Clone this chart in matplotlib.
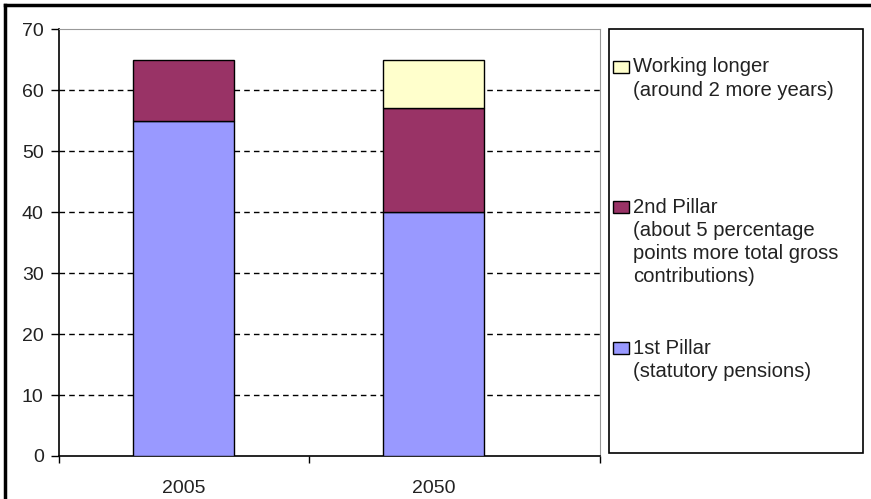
import matplotlib.pyplot as plt
from matplotlib.patches import Rectangle
from matplotlib.lines import Line2D

plt.rcParams['font.family'] = ['Liberation Sans', 'DejaVu Sans']

# data
years = ['2005', '2050']
first_pillar = [55, 40]
second_pillar = [10, 17]
working_longer = [0, 8]
legend_labels = [
    'Working longer\n(around 2 more years)',
    '2nd Pillar\n(about 5 percentage\npoints more total gross\ncontributions)',
    '1st Pillar\n(statutory pensions)',
]
colors = ['#9999FF', '#993366', '#FFFFCC']

W, H = 871, 499
fig = plt.figure(figsize=(W / 100, H / 100), dpi=100)
fig.patch.set_facecolor('white')

ax = fig.add_axes([59 / W, 1 - 456 / H, (600 - 59) / W, (456 - 29) / H])

x = list(range(len(years)))
bw = 0.403
ax.bar(x, first_pillar, bw, color=colors[0], edgecolor='black', linewidth=1, zorder=3)
ax.bar(x, second_pillar, bw, bottom=first_pillar, color=colors[1],
       edgecolor='black', linewidth=1, zorder=3)
bottoms = [a + b for a, b in zip(first_pillar, second_pillar)]
for i in x:
    if working_longer[i] > 0:
        ax.bar(i, working_longer[i], bw, bottom=bottoms[i], color=colors[2],
               edgecolor='black', linewidth=1, zorder=3)

ax.set_xlim(-0.497, 1.663)
ax.set_ylim(0, 70)
ax.set_yticks(range(0, 71, 10))
ax.tick_params(axis='y', direction='out', length=6, width=1, labelsize=14,
               pad=5, labelcolor='#222222')
ax.set_xticks(x)
ax.set_xticklabels(years)
ax.tick_params(axis='x', length=0, labelsize=14, pad=17, labelcolor='#222222')
ax.set_xticks([-0.497, 0.5, 1.663], minor=True)
ax.tick_params(axis='x', which='minor', direction='out', length=5, width=1)

for y in range(10, 70, 10):
    ax.axhline(y, color='black', linestyle=(0, (4, 3)), linewidth=1, zorder=1)

ax.spines['left'].set_linewidth(1.2)
ax.spines['bottom'].set_linewidth(1.2)
ax.spines['top'].set_color('#999999')
ax.spines['right'].set_color('#999999')

# legend box
fig.patches.append(Rectangle((609 / W, 1 - 453 / H), (863 - 609) / W, (453 - 29) / H,
                             transform=fig.transFigure, facecolor='white',
                             edgecolor='black', linewidth=1.2))
legend_y = [67, 207, 348]
legend_colors = [colors[2], colors[1], colors[0]]
for lab, yy, c in zip(legend_labels, legend_y, legend_colors):
    fig.patches.append(Rectangle((613 / W, 1 - (yy + 6) / H), 16 / W, 12 / H,
                                 transform=fig.transFigure, facecolor=c,
                                 edgecolor='black', linewidth=1))
    for k, line in enumerate(lab.split('\n')):
        fig.text(633 / W, 1 - (yy + k * 23.3) / H, line, fontsize=14.6,
                 va='center', ha='left', color='#222222')

# outer frame of the cropped page
fig.lines.append(Line2D([5 / W, 5 / W], [0, 1 - 5 / H], transform=fig.transFigure,
                        color='black', linewidth=2.5))
fig.lines.append(Line2D([5 / W, 870 / W], [1 - 5 / H, 1 - 5 / H], transform=fig.transFigure,
                        color='black', linewidth=2.5))

fig.savefig('out.png', dpi=100)
